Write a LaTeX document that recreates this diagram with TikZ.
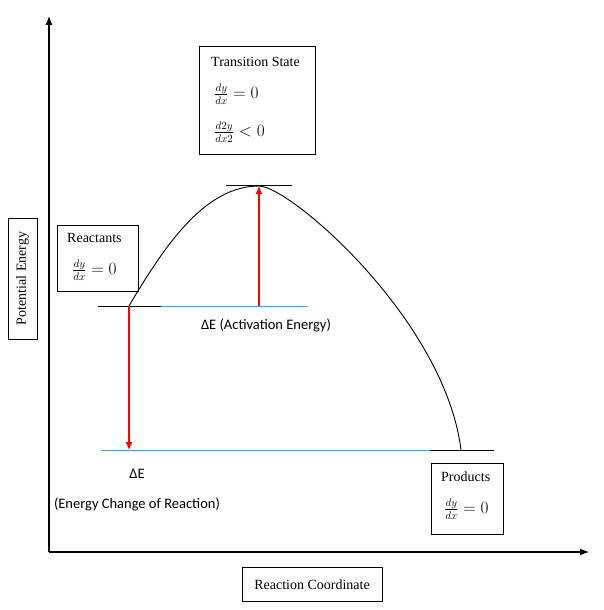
\documentclass[tikz,border=0pt]{standalone}
\usepackage{fontspec}
\setmainfont{Liberation Serif}
\newfontfamily\calibri{Carlito}
\usetikzlibrary{arrows.meta}
\definecolor{levelblue}{RGB}{91,155,213}
\tikzset{
	box/.style={draw, line width=0.8pt, inner sep=0pt},
	boxtext/.style={anchor=west, inner sep=0pt, font=\fontsize{14}{16}\selectfont},
	mathtext/.style={anchor=west, inner sep=0pt, font=\fontsize{16}{18}\selectfont},
	lbl/.style={inner sep=0pt, font=\calibri\fontsize{14.5}{17}\selectfont},
	level/.style={line width=1pt, levelblue},
	gap/.style={red, line width=1.1pt, -{Latex[length=8pt,width=7pt]}}
}

\begin{document}
\begin{tikzpicture}[x=1pt,y=-1pt]
	%%%%% START %%%%%
	\useasboundingbox (0,0) rectangle (604,610);
	
	% axes
	\coordinate (origin) at (49,552);
	\coordinate (ytop) at (49,16);
	\coordinate (xend) at (589,552);
	\draw[line width=1.2pt, -{Latex[length=9pt,width=7pt]}] (origin) -- (ytop);
	\draw[line width=1.2pt, -{Latex[length=9pt,width=7pt]}] (origin) -- (xend);
	
	\node[box, minimum width=29pt, minimum height=121pt] (pe) at (22.5,278.5) {};
	\node[rotate=90, inner sep=0pt, font=\fontsize{14}{16}\selectfont] at (pe) {Potential Energy};
	\node[box, minimum width=140pt, minimum height=34pt, font=\fontsize{14}{16}\selectfont] (rc) at (312,584.5) {Reaction Coordinate};
	
	% energy levels
	\coordinate (react) at (129,306);
	\coordinate (rleft) at (98,306);
	\coordinate (rmid) at (161,306);
	\coordinate (rright) at (308,306);
	\coordinate (peak) at (259,186);
	\coordinate (tsleft) at (226,185);
	\coordinate (tsright) at (292,185);
	\coordinate (prod) at (461,450);
	\coordinate (pleft) at (101,450);
	\coordinate (pmid) at (430,450);
	\coordinate (pright) at (494,450);
	\coordinate (abase) at (259,306);
	\coordinate (dbase) at (129,450);
	
	\draw[line width=1pt] (rleft) -- (rmid);
	\draw[level] (rmid) -- (rright);
	\draw[line width=1pt] (tsleft) -- (tsright);
	\draw[level] (pleft) -- (pmid);
	\draw[line width=1pt] (pmid) -- (pright);
	
	\draw[line width=0.9pt] (react) .. controls (165,245) and (205,186) .. (peak)
		.. controls (290,186) and (445,320) .. (prod);
	
	\draw[gap] (abase) -- (peak);
	\draw[gap] (react) -- (dbase);
	
	\node[lbl] (act) at (266,325) {ΔE (Activation Energy)};
	\node[lbl] (de) at (137,474) {ΔE};
	\node[lbl] (dechg) at (137,504) {(Energy Change of Reaction)};
	
	% text boxes
	\node[box, minimum width=116pt, minimum height=108pt] (ts) at (257,100) {};
	\node[boxtext] (tstitle) at (211,62) {Transition State};
	\node[mathtext] (tsfirst) at (214,94) {$\frac{dy}{dx}=0$};
	\node[mathtext] (tssecond) at (214,132) {$\frac{d2y}{dx2}<0$};
	
	\node[box, minimum width=81pt, minimum height=66pt] (rbox) at (97.5,258) {};
	\node[boxtext] (rtitle) at (67,238) {Reactants};
	\node[mathtext] (rfirst) at (72,270) {$\frac{dy}{dx}=0$};
	
	\node[box, minimum width=72pt, minimum height=71pt] (pbox) at (467,498.5) {};
	\node[boxtext] (ptitle) at (441,477) {Products};
	\node[mathtext] (pfirst) at (444,509) {$\frac{dy}{dx}=0$};
	%%%%% END %%%%%
\end{tikzpicture}
\end{document}
